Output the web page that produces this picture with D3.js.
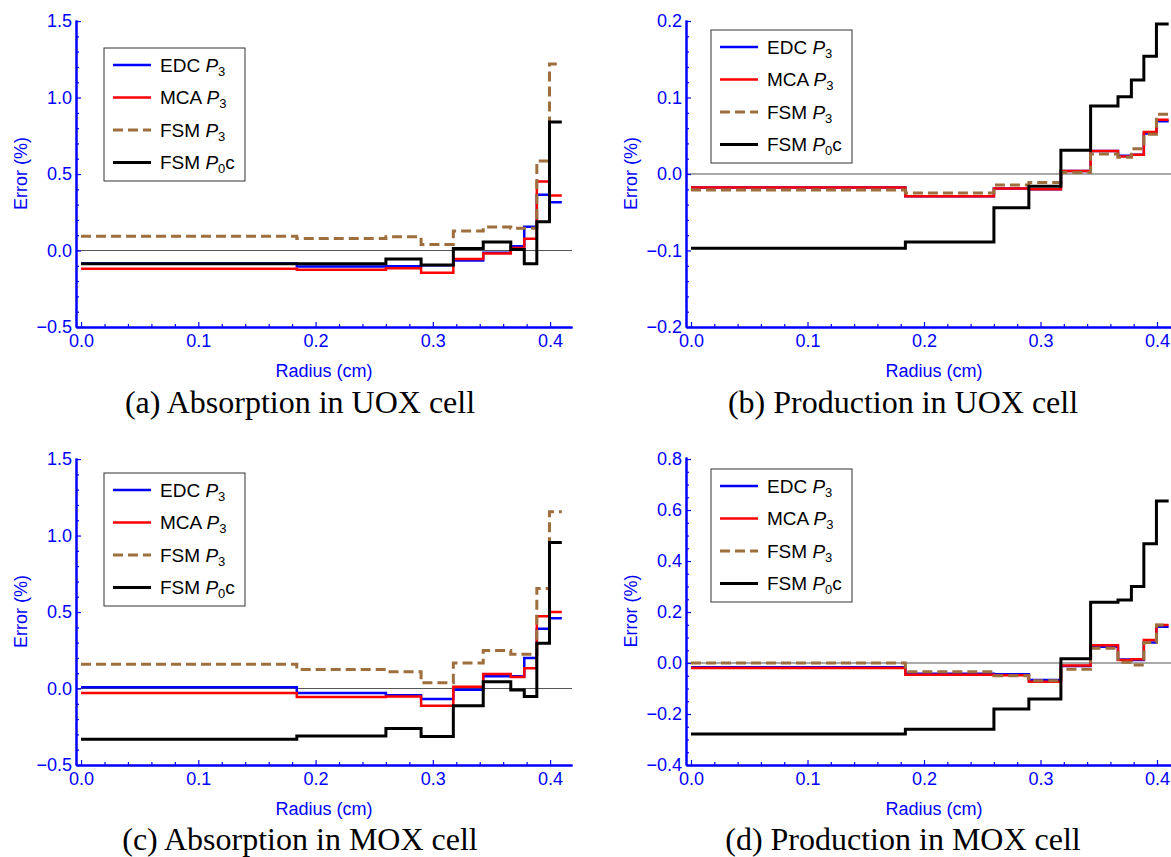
<!DOCTYPE html>
<html>
<head>
<meta charset="utf-8">
<script src="https://cdn.jsdelivr.net/npm/d3@7"></script>
<style>
  body { margin: 0; background: #fff; }
  svg { display: block; }
  .tick text { font-family: "Liberation Sans", Arial, sans-serif; font-size: 18px; fill: #0000ff; }
</style>
</head>
<body>
<svg id="chart" width="1171" height="857"></svg>
<script>
// step boundaries (cm), last one is the outer radius
const radii = [0, 0.184, 0.26, 0.29, 0.3175, 0.343, 0.3665, 0.378, 0.3887, 0.3995, 0.41];

// (a) absorption, UOX
const absUoxEdc  = [-0.085, -0.105, -0.103, -0.096, -0.066, -0.015, 0.028, 0.155, 0.365, 0.315];
const absUoxMca  = [-0.12, -0.125, -0.116, -0.146, -0.055, -0.02, 0.017, 0.077, 0.452, 0.36];
const absUoxFsm  = [0.094, 0.079, 0.09, 0.04, 0.127, 0.153, 0.146, 0.146, 0.586, 1.22];
const absUoxP0c  = [-0.087, -0.087, -0.055, -0.094, 0.013, 0.055, 0.007, -0.087, 0.188, 0.84];

// (b) production, UOX
const prodUoxEdc = [-0.0175, -0.029, -0.019, -0.02, 0.004, 0.03, 0.024, 0.025, 0.053, 0.069];
const prodUoxMca = [-0.0175, -0.029, -0.019, -0.02, 0.004, 0.03, 0.023, 0.025, 0.055, 0.071];
const prodUoxFsm = [-0.021, -0.025, -0.0145, -0.011, 0.002, 0.026, 0.022, 0.033, 0.052, 0.078];
const prodUoxP0c = [-0.097, -0.089, -0.044, -0.016, 0.031, 0.089, 0.101, 0.123, 0.154, 0.196];

// (c) absorption, MOX
const absMoxEdc  = [0.008, -0.03, -0.044, -0.069, -0.008, 0.08, 0.08, 0.2, 0.39, 0.46];
const absMoxMca  = [-0.029, -0.055, -0.052, -0.113, 0.012, 0.095, 0.075, 0.132, 0.473, 0.5];
const absMoxFsm  = [0.159, 0.124, 0.11, 0.037, 0.167, 0.248, 0.224, 0.224, 0.654, 1.155];
const absMoxP0c  = [-0.331, -0.31, -0.262, -0.314, -0.113, 0.044, -0.01, -0.052, 0.296, 0.955];

// (d) production, MOX
const prodMoxEdc = [-0.017, -0.042, -0.044, -0.067, -0.012, 0.064, 0.014, 0.012, 0.08, 0.142];
const prodMoxMca = [-0.02, -0.046, -0.048, -0.073, -0.01, 0.07, 0.012, 0.015, 0.09, 0.149];
const prodMoxFsm = [0.0, -0.034, -0.05, -0.07, -0.024, 0.058, 0.003, -0.008, 0.08, 0.149];
const prodMoxP0c = [-0.278, -0.26, -0.18, -0.141, 0.017, 0.238, 0.247, 0.30, 0.468, 0.635];

const xTicks = [0, 0.1, 0.2, 0.3, 0.4];
const yTicksAbs = [-0.5, 0, 0.5, 1.0, 1.5];
const yTicksProdUox = [-0.2, -0.1, 0, 0.1, 0.2];
const yTicksProdMox = [-0.4, -0.2, 0, 0.2, 0.4, 0.6, 0.8];

const captions = ["(a) Absorption in UOX cell", "(b) Production in UOX cell",
                  "(c) Absorption in MOX cell", "(d) Production in MOX cell"];

const legendNames = [["EDC ", "P", "3", ""], ["MCA ", "P", "3", ""], ["FSM ", "P", "3", ""], ["FSM ", "P", "0", "c"]];
const styles = [
  { color: "#0000ff", width: 2.5, dash: null },
  { color: "#ff0000", width: 2.5, dash: null },
  { color: "#9e6e3c", width: 3, dash: "10,5" },
  { color: "#000000", width: 3, dash: null }
];

const panels = [
  { series: [absUoxEdc, absUoxMca, absUoxFsm, absUoxP0c], xr: [76, 572], yr: [327, 20], yd: [-0.5, 1.507],
    yTicks: yTicksAbs, yMinor: 0.1, legend: [104, 48], cap: [300, 413] },
  { series: [prodUoxEdc, prodUoxMca, prodUoxFsm, prodUoxP0c], xr: [686, 1178.8], yr: [327, 20], yd: [-0.2, 0.2013],
    yTicks: yTicksProdUox, yMinor: 0.02, legend: [711, 30], cap: [903, 413] },
  { series: [absMoxEdc, absMoxMca, absMoxFsm, absMoxP0c], xr: [76, 572], yr: [765, 458], yd: [-0.5, 1.507],
    yTicks: yTicksAbs, yMinor: 0.1, legend: [104, 473], cap: [300, 850] },
  { series: [prodMoxEdc, prodMoxMca, prodMoxFsm, prodMoxP0c], xr: [686, 1178.8], yr: [765, 457], yd: [-0.4, 0.808],
    yTicks: yTicksProdMox, yMinor: 0.05, legend: [711, 469], cap: [903, 850] }
];

const svg = d3.select("#chart");
const axisBlue = "#0000ff";

panels.forEach((p, pi) => {
  const x = d3.scaleLinear().domain([-0.0043, 0.4187]).range(p.xr);
  const y = d3.scaleLinear().domain(p.yd).range(p.yr);
  const g = svg.append("g");

  // zero line
  g.append("line")
    .attr("x1", p.xr[0]).attr("x2", p.xr[1])
    .attr("y1", y(0)).attr("y2", y(0))
    .attr("stroke", "#555").attr("stroke-width", 1);

  // step lines
  const line = d3.line().x(d => x(d[0])).y(d => y(d[1])).curve(d3.curveStepAfter);
  p.series.forEach((vals, si) => {
    const pts = radii.map((r, i) => [r, vals[Math.min(i, vals.length - 1)]]);
    const st = styles[si];
    g.append("path").datum(pts)
      .attr("d", line)
      .attr("fill", "none")
      .attr("stroke", st.color)
      .attr("stroke-width", st.width)
      .attr("stroke-dasharray", st.dash)
      .attr("stroke-linejoin", "miter");
  });

  // minor ticks
  const xMinor = d3.range(0, 0.4187, 0.02).filter(v => Math.abs(v * 10 - Math.round(v * 10)) > 1e-6);
  const y0 = p.yTicks[0], y1 = p.yTicks[p.yTicks.length - 1];
  const yMinor = d3.range(y0, y1 + 1e-9, p.yMinor).filter(v => !p.yTicks.some(t => Math.abs(t - v) < 1e-6));

  g.append("g").attr("transform", `translate(0,${p.yr[0]})`)
    .call(d3.axisBottom(x).tickValues(xMinor).tickSize(-3).tickSizeOuter(0).tickFormat(""));
  g.append("g").attr("transform", `translate(${p.xr[0]},0)`)
    .call(d3.axisLeft(y).tickValues(yMinor).tickSize(-3).tickSizeOuter(0).tickFormat(""));

  // major axes
  const xa = g.append("g").attr("transform", `translate(0,${p.yr[0]})`)
    .call(d3.axisBottom(x).tickValues(xTicks).tickSize(-5).tickSizeOuter(0).tickPadding(7).tickFormat(d3.format(".1f")));
  xa.selectAll("text").attr("dy", "0.71em");
  g.append("g").attr("transform", `translate(${p.xr[0]},0)`)
    .call(d3.axisLeft(y).tickValues(p.yTicks).tickSize(-5).tickSizeOuter(0).tickPadding(4).tickFormat(d3.format(".1f")));

  g.selectAll(".domain").attr("stroke", axisBlue).attr("stroke-width", 2);
  g.selectAll(".tick line").attr("stroke", axisBlue).attr("stroke-width", 1.2);

  // axis titles
  g.append("text")
    .attr("x", (p.xr[0] + 572 - 76 + p.xr[0]) / 2)
    .attr("y", p.yr[0] + 50)
    .attr("text-anchor", "middle")
    .attr("font-family", "Liberation Sans, Arial, sans-serif")
    .attr("font-size", 18).attr("fill", axisBlue)
    .text("Radius (cm)");
  g.append("text")
    .attr("transform", `translate(${p.xr[0] - 49},${(p.yr[0] + p.yr[1]) / 2}) rotate(-90)`)
    .attr("text-anchor", "middle")
    .attr("font-family", "Liberation Sans, Arial, sans-serif")
    .attr("font-size", 18).attr("fill", axisBlue)
    .text("Error (%)");

  // legend
  const lg = g.append("g").attr("transform", `translate(${p.legend[0]},${p.legend[1]})`);
  lg.append("rect").attr("width", 141).attr("height", 133)
    .attr("fill", "#fff").attr("stroke", "#333").attr("stroke-width", 1);
  legendNames.forEach((nm, i) => {
    const yy = 17 + i * 32.5;
    const st = styles[i];
    lg.append("line").attr("x1", 9).attr("x2", 47).attr("y1", yy).attr("y2", yy)
      .attr("stroke", st.color).attr("stroke-width", st.width).attr("stroke-dasharray", st.dash);
    const t = lg.append("text").attr("x", 56).attr("y", yy + 6.5)
      .attr("font-family", "Liberation Sans, Arial, sans-serif").attr("font-size", 19).attr("fill", "#000");
    t.append("tspan").text(nm[0]);
    t.append("tspan").attr("font-style", "italic").text(nm[1]);
    t.append("tspan").attr("font-size", 13).attr("dy", 4).text(nm[2]);
    if (nm[3]) t.append("tspan").attr("dy", -4).text(nm[3]);
  });

  // caption
  svg.append("text")
    .attr("x", p.cap[0]).attr("y", p.cap[1])
    .attr("text-anchor", "middle")
    .attr("font-family", "Liberation Serif, Times New Roman, serif")
    .attr("font-size", 32).attr("fill", "#000")
    .text(captions[pi]);
});
</script>
</body>
</html>
